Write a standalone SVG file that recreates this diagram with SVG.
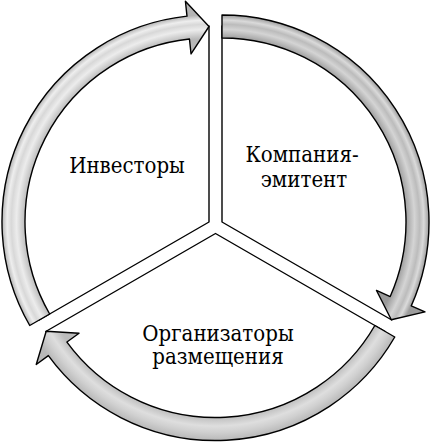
<svg xmlns="http://www.w3.org/2000/svg" width="431" height="443" viewBox="0 0 431 443">
  <defs>
    <radialGradient id="g1" gradientUnits="userSpaceOnUse" cx="209" cy="222" r="207">
      <stop offset="0.885" stop-color="#b8b8b8"/>
      <stop offset="0.93" stop-color="#ececec"/>
      <stop offset="0.955" stop-color="#d8d8d8"/>
      <stop offset="0.975" stop-color="#eeeeee"/>
      <stop offset="1" stop-color="#b4b4b4"/>
    </radialGradient>
    <radialGradient id="g2" gradientUnits="userSpaceOnUse" cx="222" cy="222" r="207">
      <stop offset="0.885" stop-color="#9a9a9a"/>
      <stop offset="0.93" stop-color="#d4d4d4"/>
      <stop offset="0.955" stop-color="#bcbcbc"/>
      <stop offset="0.975" stop-color="#dadada"/>
      <stop offset="1" stop-color="#9c9c9c"/>
    </radialGradient>
    <radialGradient id="g3" gradientUnits="userSpaceOnUse" cx="215.5" cy="233.5" r="207">
      <stop offset="0.885" stop-color="#bcbcbc"/>
      <stop offset="0.93" stop-color="#dedede"/>
      <stop offset="0.96" stop-color="#d0d0d0"/>
      <stop offset="1" stop-color="#b8b8b8"/>
    </radialGradient>
  </defs>
  <style>
    .sector { fill: #ffffff; stroke: #000000; stroke-width: 1.4; stroke-linejoin: round; }
    .arrow { stroke: #000000; stroke-width: 1.4; stroke-linejoin: round; }
    .label { font-family: "DejaVu Serif Condensed", "DejaVu Serif", serif; font-stretch: condensed; font-size: 22px; fill: #000000; text-anchor: middle; }
  </style>
  <g id="investors">
    <path class="sector" d="M 209 222 L 209 26 A 196 196 0 0 0 39.26 320 Z"/>
    <text class="label" x="127" y="173">Инвесторы</text>
  </g>
  <g id="issuer">
    <path class="sector" d="M 222 222 L 222 26 A 196 196 0 0 1 391.74 320 Z"/>
    <text class="label" x="302" y="162">Компания-</text>
    <text class="label" x="304" y="187">эмитент</text>
  </g>
  <g id="organizers">
    <path class="sector" d="M 215.5 233.5 L 385.24 331.5 A 196 196 0 0 1 45.76 331.5 Z"/>
    <text class="label" x="218" y="341">Организаторы</text>
    <text class="label" x="218" y="364">размещения</text>
  </g>
  <g id="connectors">
    <path class="arrow" fill="url(#g1)" d="M 49.65 314 L 29.73 325.5 A 207 207 0 0 1 187 16.17 L 185.41 1.26 L 209 26.5 L 191.04 53.96 L 189.45 39.04 A 184 184 0 0 0 49.65 314 Z"/>
    <path class="arrow" fill="url(#g2)" d="M 222 38 L 222 15 A 207 207 0 0 1 411.25 305.86 L 424.96 311.94 L 391.31 319.75 L 376.51 290.47 L 390.22 296.55 A 184 184 0 0 0 222 38 Z"/>
    <path class="arrow" fill="url(#g3)" d="M 374.85 325.5 L 394.77 337 A 207 207 0 0 1 48.36 355.61 L 36.24 364.46 L 46.19 331.25 L 79.04 333.2 L 66.93 342.05 A 184 184 0 0 0 374.85 325.5 Z"/>
  </g>
</svg>
